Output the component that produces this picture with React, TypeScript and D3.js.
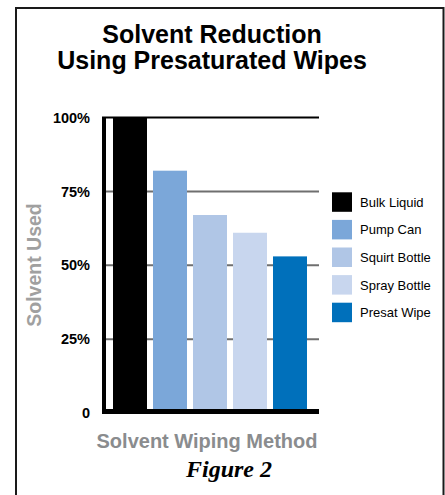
import React from "react";
import * as d3 from "d3";

const categories = ["Bulk Liquid", "Pump Can", "Squirt Bottle", "Spray Bottle", "Presat Wipe"];
const values = [100, 82, 67, 61, 53];
const colors = ["#000000", "#7ba7d9", "#b0c6e6", "#c8d6ee", "#0070bb"];
const tickValues = [0, 25, 50, 75, 100];
const tickLabels = ["0", "25%", "50%", "75%", "100%"];
const titleLines = ["Solvent Reduction", "Using Presaturated Wipes"];

const W = 445;
const H = 495;

export default function App() {
  const x = d3.scaleBand<string>().domain(categories).range([107, 313]).paddingInner(0.15).paddingOuter(0.15);
  const y = d3.scaleLinear().domain([0, 100]).range([413, 117.5]);
  const axisX = 102;
  const plotRight = 319;
  const sans = "'Liberation Sans', Arial, Helvetica, sans-serif";

  return (
    <svg width={W} height={H} style={{ position: "absolute", left: 0, top: 0, display: "block" }}>
      <rect x={0} y={0} width={W} height={H} fill="#ffffff" />
      {/* frame */}
      <path d={`M16,${H} L16,8 L443.5,8 L443.5,${H}`} fill="none" stroke="#1a1a1a" strokeWidth={2} />

      {/* title */}
      {titleLines.map((t, i) => (
        <text key={t} x={212} y={42.5 + i * 26.5} textAnchor="middle" fontFamily={sans} fontWeight="bold" fontSize={25} fill="#000">
          {t}
        </text>
      ))}

      {/* gridlines */}
      {tickValues.slice(1).map((v) => (
        <line key={v} x1={axisX} x2={plotRight} y1={y(v)} y2={y(v)}
          stroke={v === 100 ? "#000" : "#6f6f6f"} strokeWidth={v === 100 ? 1.8 : 2} />
      ))}

      {/* bars */}
      {categories.map((c, i) => (
        <rect key={c} x={x(c)!} width={x.bandwidth()} y={y(values[i])} height={y(0) - y(values[i])} fill={colors[i]} />
      ))}

      {/* axes */}
      <rect x={axisX} y={y(100) - 0.5} width={4} height={y(0) - y(100) + 1} fill="#000" />
      <rect x={axisX} y={409} width={plotRight - axisX} height={5} fill="#000" />

      {/* tick labels */}
      {tickValues.map((v, i) => (
        <text key={v} x={90} y={y(v)} dy="0.36em" textAnchor="end" fontFamily={sans} fontWeight="bold" fontSize={14.5} fill="#000">
          {tickLabels[i]}
        </text>
      ))}

      {/* y axis title */}
      <text transform={`translate(41,265) rotate(-90)`} textAnchor="middle" fontFamily={sans} fontWeight="bold" fontSize={19.5} fill="#a0a0a0">
        Solvent Used
      </text>

      {/* x axis title */}
      <text x={207} y={448} textAnchor="middle" fontFamily={sans} fontWeight="bold" fontSize={20} fill="#8a8c8e">
        Solvent Wiping Method
      </text>

      {/* figure caption */}
      <text x={229} y={477} textAnchor="middle" fontFamily="'Liberation Serif', 'Times New Roman', serif" fontWeight="bold" fontStyle="italic" fontSize={24} fill="#000">
        Figure 2
      </text>

      {/* legend */}
      {categories.map((c, i) => (
        <g key={c} transform={`translate(332,${192.3 + i * 27.6})`}>
          <rect x={0} y={0} width={20} height={19.5} fill={colors[i]} />
          <text x={28} y={9.75} dy="0.36em" fontFamily={sans} fontSize={13} fill="#000">{c}</text>
        </g>
      ))}
    </svg>
  );
}
